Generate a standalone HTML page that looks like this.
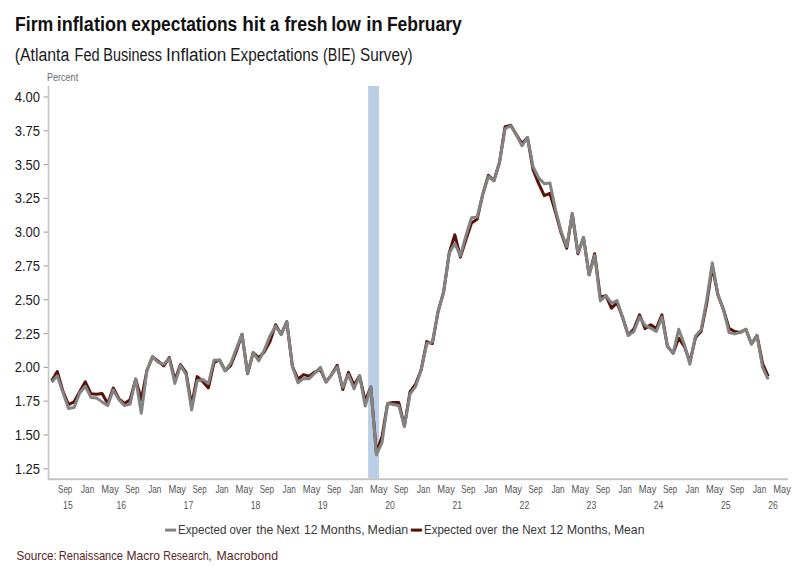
<!DOCTYPE html>
<html><head><meta charset="utf-8"><title>chart</title>
<style>
html,body{margin:0;padding:0;background:#fff;}
body{width:805px;height:570px;overflow:hidden;}
svg{display:block;font-family:"Liberation Sans",sans-serif;}
</style></head><body>
<svg width="805" height="570" viewBox="0 0 805 570">
<rect x="0" y="0" width="805" height="570" fill="#ffffff"/>
<text x="14.94" y="31.2" font-size="20.3" font-weight="bold" fill="#111" textLength="38.28" lengthAdjust="spacingAndGlyphs">Firm</text>
<text x="56.86" y="31.2" font-size="20.3" font-weight="bold" fill="#111" textLength="70.03" lengthAdjust="spacingAndGlyphs">inflation</text>
<text x="131.19" y="31.2" font-size="20.3" font-weight="bold" fill="#111" textLength="106.07" lengthAdjust="spacingAndGlyphs">expectations</text>
<text x="242.16" y="31.2" font-size="20.3" font-weight="bold" fill="#111" textLength="23.11" lengthAdjust="spacingAndGlyphs">hit</text>
<text x="269.94" y="31.2" font-size="20.3" font-weight="bold" fill="#111" textLength="9.26" lengthAdjust="spacingAndGlyphs">a</text>
<text x="284.44" y="31.2" font-size="20.3" font-weight="bold" fill="#111" textLength="43.05" lengthAdjust="spacingAndGlyphs">fresh</text>
<text x="331.15" y="31.2" font-size="20.3" font-weight="bold" fill="#111" textLength="29.65" lengthAdjust="spacingAndGlyphs">low</text>
<text x="366.18" y="31.2" font-size="20.3" font-weight="bold" fill="#111" textLength="16.63" lengthAdjust="spacingAndGlyphs">in</text>
<text x="386.88" y="31.2" font-size="20.3" font-weight="bold" fill="#111" textLength="74.92" lengthAdjust="spacingAndGlyphs">February</text>
<text x="14.63" y="61" font-size="17.6" fill="#1a1a1a" textLength="54.67" lengthAdjust="spacingAndGlyphs">(Atlanta</text>
<text x="74.54" y="61" font-size="17.6" fill="#1a1a1a" textLength="25.03" lengthAdjust="spacingAndGlyphs">Fed</text>
<text x="103.32" y="61" font-size="17.6" fill="#1a1a1a" textLength="58.69" lengthAdjust="spacingAndGlyphs">Business</text>
<text x="166.08" y="61" font-size="17.6" fill="#1a1a1a" textLength="60.26" lengthAdjust="spacingAndGlyphs">Inflation</text>
<text x="230.37" y="61" font-size="17.6" fill="#1a1a1a" textLength="88.09" lengthAdjust="spacingAndGlyphs">Expectations</text>
<text x="323.05" y="61" font-size="17.6" fill="#1a1a1a" textLength="32.55" lengthAdjust="spacingAndGlyphs">(BIE)</text>
<text x="360.02" y="61" font-size="17.6" fill="#1a1a1a" textLength="52.71" lengthAdjust="spacingAndGlyphs">Survey)</text>
<text x="47.08" y="81.3" font-size="10.9" fill="#6a6a6a" textLength="31.07" lengthAdjust="spacingAndGlyphs">Percent</text>
<text x="178.07" y="534.2" font-size="13.3" fill="#383838" textLength="48.35" lengthAdjust="spacingAndGlyphs">Expected</text>
<text x="229.48" y="534.2" font-size="13.3" fill="#383838" textLength="22.12" lengthAdjust="spacingAndGlyphs">over</text>
<text x="256.34" y="534.2" font-size="13.3" fill="#383838" textLength="17.02" lengthAdjust="spacingAndGlyphs">the</text>
<text x="276.40" y="534.2" font-size="13.3" fill="#383838" textLength="23.05" lengthAdjust="spacingAndGlyphs">Next</text>
<text x="304.00" y="534.2" font-size="13.3" fill="#383838" textLength="13.40" lengthAdjust="spacingAndGlyphs">12</text>
<text x="320.45" y="534.2" font-size="13.3" fill="#383838" textLength="44.26" lengthAdjust="spacingAndGlyphs">Months,</text>
<text x="367.60" y="534.2" font-size="13.3" fill="#383838" textLength="40.64" lengthAdjust="spacingAndGlyphs">Median</text>
<text x="423.96" y="534.2" font-size="13.3" fill="#383838" textLength="48.02" lengthAdjust="spacingAndGlyphs">Expected</text>
<text x="475.29" y="534.2" font-size="13.3" fill="#383838" textLength="21.87" lengthAdjust="spacingAndGlyphs">over</text>
<text x="501.89" y="534.2" font-size="13.3" fill="#383838" textLength="16.97" lengthAdjust="spacingAndGlyphs">the</text>
<text x="522.21" y="534.2" font-size="13.3" fill="#383838" textLength="23.64" lengthAdjust="spacingAndGlyphs">Next</text>
<text x="549.85" y="534.2" font-size="13.3" fill="#383838" textLength="13.51" lengthAdjust="spacingAndGlyphs">12</text>
<text x="566.75" y="534.2" font-size="13.3" fill="#383838" textLength="44.26" lengthAdjust="spacingAndGlyphs">Months,</text>
<text x="613.93" y="534.2" font-size="13.3" fill="#383838" textLength="30.51" lengthAdjust="spacingAndGlyphs">Mean</text>
<text x="16.48" y="560.4" font-size="13.1" fill="#5c271e" textLength="40.36" lengthAdjust="spacingAndGlyphs">Source:</text>
<text x="58.78" y="560.4" font-size="13.1" fill="#5c271e" textLength="64.28" lengthAdjust="spacingAndGlyphs">Renaissance</text>
<text x="126.41" y="560.4" font-size="13.1" fill="#5c271e" textLength="33.61" lengthAdjust="spacingAndGlyphs">Macro</text>
<text x="163.22" y="560.4" font-size="13.1" fill="#5c271e" textLength="48.36" lengthAdjust="spacingAndGlyphs">Research,</text>
<text x="216.62" y="560.4" font-size="13.1" fill="#5c271e" textLength="61.35" lengthAdjust="spacingAndGlyphs">Macrobond</text>
<rect x="368.1" y="86" width="11" height="392.6" fill="#bacfe5"/>
<rect x="47.7" y="86" width="1.7" height="394.2" fill="#c6c6c6"/>
<rect x="47.7" y="478.2" width="740.5" height="2" fill="#c5c5c5"/>
<rect x="43.6" y="96.4" width="4.2" height="1.1" fill="#a0a0a0"/>
<text x="14.7" y="102.0" font-size="15" fill="#1a1a1a" textLength="25.3" lengthAdjust="spacingAndGlyphs">4.00</text>
<rect x="43.6" y="130.2" width="4.2" height="1.1" fill="#a0a0a0"/>
<text x="14.7" y="135.8" font-size="15" fill="#1a1a1a" textLength="25.3" lengthAdjust="spacingAndGlyphs">3.75</text>
<rect x="43.6" y="164.0" width="4.2" height="1.1" fill="#a0a0a0"/>
<text x="14.7" y="169.6" font-size="15" fill="#1a1a1a" textLength="25.3" lengthAdjust="spacingAndGlyphs">3.50</text>
<rect x="43.6" y="197.8" width="4.2" height="1.1" fill="#a0a0a0"/>
<text x="14.7" y="203.4" font-size="15" fill="#1a1a1a" textLength="25.3" lengthAdjust="spacingAndGlyphs">3.25</text>
<rect x="43.6" y="231.6" width="4.2" height="1.1" fill="#a0a0a0"/>
<text x="14.7" y="237.2" font-size="15" fill="#1a1a1a" textLength="25.3" lengthAdjust="spacingAndGlyphs">3.00</text>
<rect x="43.6" y="265.4" width="4.2" height="1.1" fill="#a0a0a0"/>
<text x="14.7" y="271.0" font-size="15" fill="#1a1a1a" textLength="25.3" lengthAdjust="spacingAndGlyphs">2.75</text>
<rect x="43.6" y="299.2" width="4.2" height="1.1" fill="#a0a0a0"/>
<text x="14.7" y="304.8" font-size="15" fill="#1a1a1a" textLength="25.3" lengthAdjust="spacingAndGlyphs">2.50</text>
<rect x="43.6" y="333.0" width="4.2" height="1.1" fill="#a0a0a0"/>
<text x="14.7" y="338.6" font-size="15" fill="#1a1a1a" textLength="25.3" lengthAdjust="spacingAndGlyphs">2.25</text>
<rect x="43.6" y="366.8" width="4.2" height="1.1" fill="#a0a0a0"/>
<text x="14.7" y="372.4" font-size="15" fill="#1a1a1a" textLength="25.3" lengthAdjust="spacingAndGlyphs">2.00</text>
<rect x="43.6" y="400.6" width="4.2" height="1.1" fill="#a0a0a0"/>
<text x="14.7" y="406.2" font-size="15" fill="#1a1a1a" textLength="25.3" lengthAdjust="spacingAndGlyphs">1.75</text>
<rect x="43.6" y="434.4" width="4.2" height="1.1" fill="#a0a0a0"/>
<text x="14.7" y="440.0" font-size="15" fill="#1a1a1a" textLength="25.3" lengthAdjust="spacingAndGlyphs">1.50</text>
<rect x="43.6" y="468.2" width="4.2" height="1.1" fill="#a0a0a0"/>
<text x="14.7" y="473.8" font-size="15" fill="#1a1a1a" textLength="25.3" lengthAdjust="spacingAndGlyphs">1.25</text>
<text x="58.1" y="492.9" font-size="11" fill="#555" textLength="14.2" lengthAdjust="spacingAndGlyphs">Sep</text>
<text x="81.0" y="492.9" font-size="11" fill="#555" textLength="13.2" lengthAdjust="spacingAndGlyphs">Jan</text>
<text x="101.2" y="492.9" font-size="11" fill="#555" textLength="17.6" lengthAdjust="spacingAndGlyphs">May</text>
<text x="125.3" y="492.9" font-size="11" fill="#555" textLength="14.2" lengthAdjust="spacingAndGlyphs">Sep</text>
<text x="148.2" y="492.9" font-size="11" fill="#555" textLength="13.2" lengthAdjust="spacingAndGlyphs">Jan</text>
<text x="168.4" y="492.9" font-size="11" fill="#555" textLength="17.6" lengthAdjust="spacingAndGlyphs">May</text>
<text x="192.5" y="492.9" font-size="11" fill="#555" textLength="14.2" lengthAdjust="spacingAndGlyphs">Sep</text>
<text x="215.4" y="492.9" font-size="11" fill="#555" textLength="13.2" lengthAdjust="spacingAndGlyphs">Jan</text>
<text x="235.6" y="492.9" font-size="11" fill="#555" textLength="17.6" lengthAdjust="spacingAndGlyphs">May</text>
<text x="259.7" y="492.9" font-size="11" fill="#555" textLength="14.2" lengthAdjust="spacingAndGlyphs">Sep</text>
<text x="282.6" y="492.9" font-size="11" fill="#555" textLength="13.2" lengthAdjust="spacingAndGlyphs">Jan</text>
<text x="302.8" y="492.9" font-size="11" fill="#555" textLength="17.6" lengthAdjust="spacingAndGlyphs">May</text>
<text x="326.9" y="492.9" font-size="11" fill="#555" textLength="14.2" lengthAdjust="spacingAndGlyphs">Sep</text>
<text x="349.8" y="492.9" font-size="11" fill="#555" textLength="13.2" lengthAdjust="spacingAndGlyphs">Jan</text>
<text x="370.0" y="492.9" font-size="11" fill="#555" textLength="17.6" lengthAdjust="spacingAndGlyphs">May</text>
<text x="394.1" y="492.9" font-size="11" fill="#555" textLength="14.2" lengthAdjust="spacingAndGlyphs">Sep</text>
<text x="417.0" y="492.9" font-size="11" fill="#555" textLength="13.2" lengthAdjust="spacingAndGlyphs">Jan</text>
<text x="437.2" y="492.9" font-size="11" fill="#555" textLength="17.6" lengthAdjust="spacingAndGlyphs">May</text>
<text x="461.3" y="492.9" font-size="11" fill="#555" textLength="14.2" lengthAdjust="spacingAndGlyphs">Sep</text>
<text x="484.2" y="492.9" font-size="11" fill="#555" textLength="13.2" lengthAdjust="spacingAndGlyphs">Jan</text>
<text x="504.4" y="492.9" font-size="11" fill="#555" textLength="17.6" lengthAdjust="spacingAndGlyphs">May</text>
<text x="528.5" y="492.9" font-size="11" fill="#555" textLength="14.2" lengthAdjust="spacingAndGlyphs">Sep</text>
<text x="551.4" y="492.9" font-size="11" fill="#555" textLength="13.2" lengthAdjust="spacingAndGlyphs">Jan</text>
<text x="571.6" y="492.9" font-size="11" fill="#555" textLength="17.6" lengthAdjust="spacingAndGlyphs">May</text>
<text x="595.7" y="492.9" font-size="11" fill="#555" textLength="14.2" lengthAdjust="spacingAndGlyphs">Sep</text>
<text x="618.6" y="492.9" font-size="11" fill="#555" textLength="13.2" lengthAdjust="spacingAndGlyphs">Jan</text>
<text x="638.8" y="492.9" font-size="11" fill="#555" textLength="17.6" lengthAdjust="spacingAndGlyphs">May</text>
<text x="662.9" y="492.9" font-size="11" fill="#555" textLength="14.2" lengthAdjust="spacingAndGlyphs">Sep</text>
<text x="685.8" y="492.9" font-size="11" fill="#555" textLength="13.2" lengthAdjust="spacingAndGlyphs">Jan</text>
<text x="706.0" y="492.9" font-size="11" fill="#555" textLength="17.6" lengthAdjust="spacingAndGlyphs">May</text>
<text x="730.1" y="492.9" font-size="11" fill="#555" textLength="14.2" lengthAdjust="spacingAndGlyphs">Sep</text>
<text x="753.0" y="492.9" font-size="11" fill="#555" textLength="13.2" lengthAdjust="spacingAndGlyphs">Jan</text>
<text x="773.2" y="492.9" font-size="11" fill="#555" textLength="17.6" lengthAdjust="spacingAndGlyphs">May</text>
<text x="63.1" y="508.6" font-size="11" fill="#555" textLength="9.6" lengthAdjust="spacingAndGlyphs">15</text>
<text x="116.4" y="508.6" font-size="11" fill="#555" textLength="9.6" lengthAdjust="spacingAndGlyphs">16</text>
<text x="183.6" y="508.6" font-size="11" fill="#555" textLength="9.6" lengthAdjust="spacingAndGlyphs">17</text>
<text x="250.8" y="508.6" font-size="11" fill="#555" textLength="9.6" lengthAdjust="spacingAndGlyphs">18</text>
<text x="318.0" y="508.6" font-size="11" fill="#555" textLength="9.6" lengthAdjust="spacingAndGlyphs">19</text>
<text x="385.2" y="508.6" font-size="11" fill="#555" textLength="9.6" lengthAdjust="spacingAndGlyphs">20</text>
<text x="452.4" y="508.6" font-size="11" fill="#555" textLength="9.6" lengthAdjust="spacingAndGlyphs">21</text>
<text x="519.6" y="508.6" font-size="11" fill="#555" textLength="9.6" lengthAdjust="spacingAndGlyphs">22</text>
<text x="586.6" y="508.6" font-size="11" fill="#555" textLength="9.6" lengthAdjust="spacingAndGlyphs">23</text>
<text x="653.7" y="508.6" font-size="11" fill="#555" textLength="9.6" lengthAdjust="spacingAndGlyphs">24</text>
<text x="721.0" y="508.6" font-size="11" fill="#555" textLength="9.6" lengthAdjust="spacingAndGlyphs">25</text>
<text x="768.3" y="508.6" font-size="11" fill="#555" textLength="9.6" lengthAdjust="spacingAndGlyphs">26</text>
<path d="M51.7,380.8 L57.3,371.6 L62.9,391.0 L68.5,404.6 L74.1,401.8 L79.7,391.6 L85.3,381.8 L90.9,393.7 L96.5,394.3 L102.1,393.4 L107.7,403.4 L113.3,388.0 L118.9,398.8 L124.5,403.4 L130.1,399.7 L135.7,379.1 L141.3,399.7 L146.9,370.5 L152.5,356.8 L158.1,361.2 L163.7,365.9 L169.3,357.6 L174.9,380.1 L180.5,364.6 L186.1,372.7 L191.6,405.2 L197.2,376.6 L202.8,381.5 L208.4,387.9 L214.0,362.6 L219.6,360.0 L225.2,370.7 L230.8,365.3 L236.4,351.1 L242.0,334.2 L247.6,373.7 L253.2,352.6 L258.8,357.8 L264.4,351.8 L270.0,341.6 L275.6,324.7 L281.2,334.4 L286.8,321.7 L292.4,366.4 L298.0,379.1 L303.6,374.6 L309.2,376.1 L314.8,372.0 L320.4,369.5 L326.0,382.0 L331.6,374.6 L337.2,365.4 L342.8,389.5 L348.4,372.4 L354.0,385.0 L359.6,375.8 L365.2,401.0 L370.8,387.0 L376.4,452.5 L382.0,436.7 L387.6,403.4 L393.2,402.5 L398.8,402.5 L404.4,426.2 L410.0,391.9 L415.6,384.2 L421.2,369.6 L426.8,341.6 L432.4,343.5 L438.0,311.9 L443.6,292.1 L449.2,253.3 L454.8,234.7 L460.4,257.1 L466.0,239.5 L471.5,223.0 L477.1,219.3 L482.7,194.6 L488.3,175.3 L493.9,180.7 L499.5,162.5 L505.1,126.6 L510.7,125.3 L516.3,134.6 L521.9,143.5 L527.5,137.6 L533.1,169.9 L538.7,183.6 L544.3,195.7 L549.9,193.4 L555.5,212.2 L561.1,232.8 L566.7,248.3 L572.3,213.8 L577.9,253.7 L583.5,237.6 L589.1,274.8 L594.7,253.7 L600.3,297.3 L605.9,295.6 L611.5,308.1 L617.1,302.7 L622.7,317.8 L628.3,335.3 L633.9,329.0 L639.5,314.8 L645.1,328.6 L650.7,324.8 L656.3,328.5 L661.9,314.8 L667.5,346.5 L673.1,353.1 L678.7,338.2 L684.3,346.3 L689.9,361.9 L695.5,337.6 L701.1,331.5 L706.7,303.8 L712.3,266.6 L717.9,294.7 L723.5,309.6 L729.1,328.4 L734.7,331.5 L740.3,332.4 L745.9,329.4 L751.5,344.0 L757.0,335.4 L762.6,363.6 L768.2,376.4" fill="none" stroke="#5a1208" stroke-width="3" stroke-linejoin="round" stroke-linecap="butt"/>
<path d="M51.7,382.2 L57.3,375.8 L62.9,392.2 L68.5,408.5 L74.1,407.5 L79.7,393.0 L85.3,386.2 L90.9,397.4 L96.5,397.9 L102.1,401.9 L107.7,405.6 L113.3,389.9 L118.9,399.7 L124.5,405.6 L130.1,404.1 L135.7,379.1 L141.3,413.3 L146.9,370.5 L152.5,356.8 L158.1,362.4 L163.7,364.3 L169.3,358.5 L174.9,383.4 L180.5,365.5 L186.1,374.5 L191.6,410.0 L197.2,380.8 L202.8,379.5 L208.4,383.5 L214.0,360.3 L219.6,360.0 L225.2,370.7 L230.8,363.2 L236.4,348.4 L242.0,334.2 L247.6,373.7 L253.2,352.6 L258.8,360.9 L264.4,349.9 L270.0,335.7 L275.6,326.1 L281.2,334.4 L286.8,321.7 L292.4,366.4 L298.0,382.8 L303.6,378.4 L309.2,378.8 L314.8,373.1 L320.4,367.4 L326.0,382.0 L331.6,374.6 L337.2,366.9 L342.8,387.3 L348.4,374.6 L354.0,388.8 L359.6,375.8 L365.2,406.1 L370.8,387.0 L376.4,454.9 L382.0,442.6 L387.6,403.4 L393.2,404.5 L398.8,405.8 L404.4,426.2 L410.0,393.9 L415.6,386.6 L421.2,369.6 L426.8,343.5 L432.4,342.0 L438.0,311.9 L443.6,292.1 L449.2,253.3 L454.8,243.6 L460.4,255.6 L466.0,235.5 L471.5,217.8 L477.1,217.1 L482.7,194.6 L488.3,176.5 L493.9,180.7 L499.5,162.5 L505.1,128.7 L510.7,125.7 L516.3,134.6 L521.9,145.8 L527.5,137.6 L533.1,166.9 L538.7,177.7 L544.3,183.7 L549.9,182.9 L555.5,209.5 L561.1,231.2 L566.7,246.6 L572.3,213.8 L577.9,252.7 L583.5,237.6 L589.1,274.8 L594.7,255.5 L600.3,300.9 L605.9,295.6 L611.5,303.1 L617.1,300.6 L622.7,317.8 L628.3,335.3 L633.9,331.5 L639.5,317.0 L645.1,325.3 L650.7,328.1 L656.3,331.5 L661.9,317.0 L667.5,346.5 L673.1,353.1 L678.7,329.3 L684.3,344.2 L689.9,364.3 L695.5,335.9 L701.1,329.7 L706.7,300.0 L712.3,262.7 L717.9,294.7 L723.5,309.6 L729.1,332.6 L734.7,333.9 L740.3,332.4 L745.9,329.4 L751.5,344.0 L757.0,335.4 L762.6,367.4 L768.2,379.3" fill="none" stroke="#838383" stroke-width="3" stroke-linejoin="round" stroke-linecap="butt"/>
<rect x="165.1" y="528.6" width="11.1" height="3" fill="#838383"/>
<rect x="410.8" y="528.6" width="11.1" height="3" fill="#5a1208"/>
</svg></body></html>
